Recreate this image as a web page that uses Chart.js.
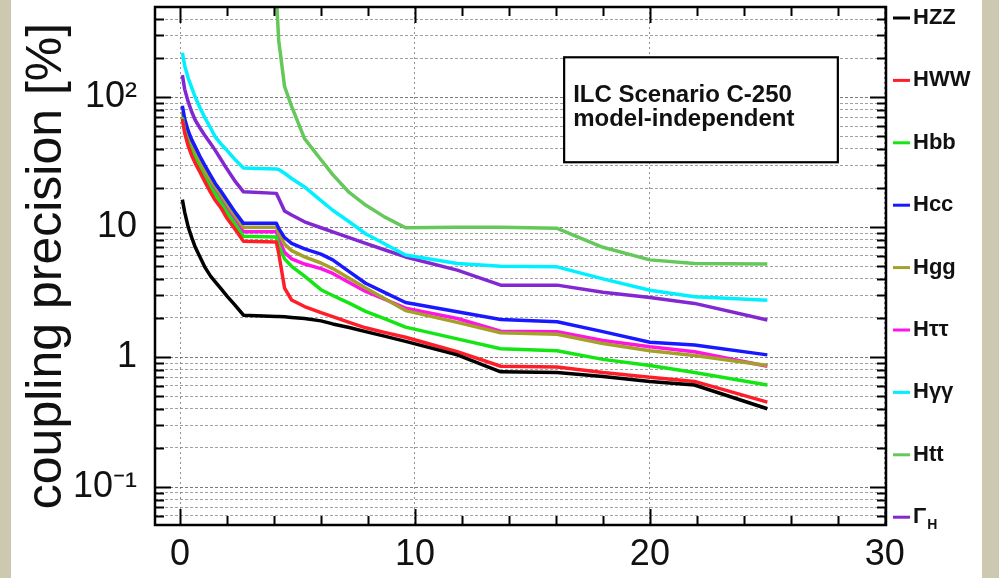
<!DOCTYPE html>
<html>
<head>
<meta charset="utf-8">
<script src="https://cdn.jsdelivr.net/npm/chart.js@4.4.1/dist/chart.umd.min.js"></script>
<style>
  html, body { margin: 0; padding: 0; background: rgb(205,200,176); }
  #wrap { width: 999px; height: 578px; }
</style>
</head>
<body>
<div id="wrap"><canvas id="chart" width="999" height="578"></canvas></div>
<script>

// x positions shared by all curves
const years = [0.1, 0.2, 0.35, 0.5, 0.65, 0.85, 1.05, 1.3, 1.5, 1.75, 2.0, 2.35, 2.7,
               4.1, 4.2, 4.45, 4.75, 5.3, 6.0, 6.5, 7.2, 7.9, 8.7, 9.6,
               11.8, 13.65, 16.05, 18, 20, 21.9, 25];

// coupling precision [%] for each coupling
const hzz     = [16.3, 13.0, 10, 8.3, 7.0, 5.9, 4.95, 4.2, 3.8, 3.35, 2.95, 2.5, 2.1,
                 2.05, 2.05, 2.04, 2.02, 1.98, 1.9, 1.8, 1.69, 1.57, 1.45, 1.32,
                 1.04, 0.77, 0.76, 0.71, 0.65, 0.61, 0.40];
const hww     = [68, 53, 42, 35.5, 31, 26.5, 22.5, 18.5, 16.1, 14.0, 11.7, 9.6, 7.8,
                 7.7, 6.3, 3.4, 2.75, 2.45, 2.2, 2.05, 1.85, 1.68, 1.55, 1.42,
                 1.1, 0.85, 0.84, 0.76, 0.70, 0.65, 0.45];
const hbb     = [70, 55, 44, 37.5, 33, 28, 24, 20.3, 18, 15.3, 13, 10.5, 8.5,
                 8.4, 7.2, 5.7, 5.0, 4.2, 3.3, 2.98, 2.6, 2.25, 1.98, 1.7,
                 1.38, 1.16, 1.12, 0.96, 0.86, 0.76, 0.61];
const hcc     = [86, 68, 55, 47, 41.5, 35, 30, 25, 21.7, 18.8, 16.1, 13, 10.7,
                 10.7, 9.8, 8.3, 7.5, 6.8, 6.2, 5.6, 4.55, 3.7, 3.15, 2.63,
                 2.23, 1.95, 1.87, 1.57, 1.3, 1.24, 1.04];
const hgg     = [77, 61, 50, 42, 37, 31.5, 27, 23, 20.5, 17.6, 15, 12.2, 10.0,
                 10.0, 9.0, 7.4, 6.6, 5.9, 5.3, 4.8, 4.05, 3.4, 2.82, 2.28,
                 1.85, 1.54, 1.5, 1.27, 1.12, 1.03, 0.86];
const htautau = [71, 57, 47, 40, 35, 30, 25.5, 21.8, 19.5, 16.6, 14, 11.3, 9.2,
                 9.2, 8.2, 6.4, 5.7, 5.2, 4.8, 4.4, 3.75, 3.2, 2.79, 2.38,
                 1.98, 1.58, 1.57, 1.34, 1.2, 1.1, 0.85];
const hgamgam = [220, 175, 140, 118, 100, 83, 70, 58, 49.5, 43.5, 39, 33, 28.5,
                 28, 27.8, 26, 23.7, 20.4, 16, 13.5, 11, 8.9, 7.45, 6.1,
                 5.26, 5.0, 4.95, 4.0, 3.27, 2.91, 2.74];
const htt     = [null, null, null, null, null, null, null, null, null, null, null, null, null,
                 600, 274, 121, 85, 48, 33, 25.4, 18.5, 14.8, 12.0, 9.9,
                 10, 10, 9.8, 7.0, 5.6, 5.25, 5.2];
const gammaH  = [148, 115, 92, 77, 66.5, 58, 51, 44, 39, 33, 28, 22.5, 18.7,
                 18.2, 16.7, 13.3, 12.4, 11.0, 9.9, 9.2, 8.3, 7.5, 6.7, 5.9,
                 4.67, 3.58, 3.58, 3.15, 2.87, 2.59, 1.93];

const seriesNames = ['HZZ', 'HWW', 'Hbb', 'Hcc', 'Hgg', 'Hττ', 'Hγγ', 'Htt', 'Γ_H'];
const seriesValues = [hzz, hww, hbb, hcc, hgg, htautau, hgamgam, htt, gammaH];
const seriesColors = ['#000000', 'rgb(255,30,40)', 'rgb(20,230,20)', 'rgb(25,25,255)', 'rgb(165,160,40)',
                      'rgb(255,20,230)', 'rgb(0,240,255)', 'rgb(100,200,90)', 'rgb(130,40,210)'];

// axis ticks
const xTickValues = [0, 10, 20, 30];
const yDecades = [0.1, 1, 10, 100];
const yDecadeLabels = ['10⁻¹', '1', '10', '10²'];

const yMin = 0.051, yMax = 495;
const yTickValues = [];
for (let e = -2; e <= 2; e++) {
    for (let k = 1; k <= 9; k++) {
        const v = Number((k * Math.pow(10, e)).toPrecision(6));
        if (v >= yMin && v <= yMax) yTickValues.push(v);
    }
}

function decadeIndex(v) {
    return yDecades.findIndex(d => Math.abs(d - v) < d * 1e-6);
}

const datasets = seriesNames.map((name, i) => ({
    label: name,
    data: years.map((x, j) => ({ x: x, y: seriesValues[i][j] })).filter(p => p.y !== null),
    borderColor: seriesColors[i],
    backgroundColor: seriesColors[i],
    borderWidth: 3.5,
    borderJoinStyle: 'round',
    pointRadius: 0,
    fill: false,
    tension: 0
}));

const FONT = "'Liberation Sans', Arial, Helvetica, sans-serif";

// page background, frame, inner tick marks, text box and legend
const decorations = {
    id: 'decorations',
    beforeDraw(chart) {
        const ctx = chart.ctx;
        ctx.save();
        ctx.fillStyle = 'rgb(205,200,176)';
        ctx.fillRect(0, 0, chart.width, chart.height);
        ctx.fillStyle = '#ffffff';
        ctx.fillRect(11, 0, 971, chart.height);
        ctx.restore();
    },
    afterDraw(chart) {
        const { ctx, chartArea: a, scales: { x, y } } = chart;
        ctx.save();
        ctx.strokeStyle = '#000';
        ctx.lineWidth = 2;

        // y tick marks on both sides
        y.ticks.forEach(t => {
            const py = Math.round(y.getPixelForValue(t.value)) + 0.5;
            const len = decadeIndex(t.value) >= 0 ? 16 : 9;
            ctx.beginPath();
            ctx.moveTo(a.left, py); ctx.lineTo(a.left + len, py);
            ctx.moveTo(a.right, py); ctx.lineTo(a.right - len, py);
            ctx.stroke();
        });

        // x tick marks top and bottom
        for (let v = 0; v <= 30; v += 2) {
            const px = Math.round(x.getPixelForValue(v)) + 0.5;
            const len = v % 10 === 0 ? 16 : 9;
            ctx.beginPath();
            ctx.moveTo(px, a.bottom); ctx.lineTo(px, a.bottom - len);
            ctx.moveTo(px, a.top); ctx.lineTo(px, a.top + len);
            ctx.stroke();
        }

        ctx.lineWidth = 2.5;
        ctx.strokeRect(a.left, a.top, a.right - a.left, a.bottom - a.top);

        // scenario box
        const bx0 = x.getPixelForValue(16.35), bx1 = x.getPixelForValue(28.0);
        const by0 = y.getPixelForValue(203), by1 = y.getPixelForValue(31.6);
        ctx.fillStyle = '#fff';
        ctx.fillRect(bx0, by0, bx1 - bx0, by1 - by0);
        ctx.lineWidth = 2.2;
        ctx.strokeRect(bx0, by0, bx1 - bx0, by1 - by0);
        ctx.fillStyle = '#111';
        ctx.font = 'bold 24px ' + FONT;
        ctx.textBaseline = 'middle';
        ctx.textAlign = 'left';
        ctx.fillText('ILC Scenario C-250', bx0 + 9, by0 + 38);
        ctx.fillText('model-independent', bx0 + 9, by0 + 62);

        // legend
        chart.data.datasets.forEach((ds, i) => {
            const ly = 18 + i * 62.4;
            ctx.strokeStyle = ds.borderColor;
            ctx.lineWidth = 3;
            ctx.beginPath();
            ctx.moveTo(893, ly); ctx.lineTo(910, ly);
            ctx.stroke();
            const parts = ds.label.split('_');
            ctx.fillStyle = '#111';
            ctx.font = 'bold 22px ' + FONT;
            ctx.fillText(parts[0], 913, ly);
            if (parts[1]) {
                const w = ctx.measureText(parts[0]).width;
                ctx.font = 'bold 14px ' + FONT;
                ctx.fillText(parts[1], 913 + w + 1, ly + 8);
            }
        });
        ctx.restore();
    }
};

new Chart(document.getElementById('chart'), {
    type: 'line',
    data: { datasets: datasets },
    plugins: [decorations],
    options: {
        responsive: false,
        animation: false,
        layout: { padding: { top: 7, right: 113, left: 0, bottom: 0 } },
        plugins: { legend: { display: false }, tooltip: { enabled: false } },
        scales: {
            x: {
                type: 'linear',
                min: -1.065,
                max: 30.05,
                afterBuildTicks: s => { s.ticks = xTickValues.map(v => ({ value: v })); },
                afterFit: s => { s.height = 53; s.paddingLeft = 0; s.paddingRight = 0; },
                grid: { color: 'rgba(110,110,110,0.75)', lineWidth: 1, drawTicks: false },
                border: { display: false, dash: [2, 3] },
                ticks: { padding: 8, color: '#111', maxRotation: 0, autoSkip: false,
                         font: { family: FONT, size: 36 } }
            },
            y: {
                type: 'logarithmic',
                min: yMin,
                max: yMax,
                afterBuildTicks: s => { s.ticks = yTickValues.map(v => ({ value: v })); },
                afterFit: s => { s.width = 155; s.paddingTop = 0; s.paddingBottom = 0; },
                grid: {
                    color: c => decadeIndex(c.tick.value) >= 0 ? 'rgba(90,90,90,0.8)' : 'rgba(120,120,120,0.7)',
                    lineWidth: 1,
                    drawTicks: false
                },
                border: { display: false, dash: [3, 2] },
                ticks: {
                    padding: 18,
                    color: '#111',
                    autoSkip: false,
                    font: { family: FONT, size: 36 },
                    callback: v => {
                        const i = decadeIndex(v);
                        return i >= 0 ? yDecadeLabels[i] : '';
                    }
                },
                title: {
                    display: true,
                    text: 'coupling precision [%]',
                    color: '#111',
                    font: { family: FONT, size: 50 },
                    padding: { top: 17, bottom: 0 }
                }
            }
        }
    }
});
</script>
</body>
</html>
